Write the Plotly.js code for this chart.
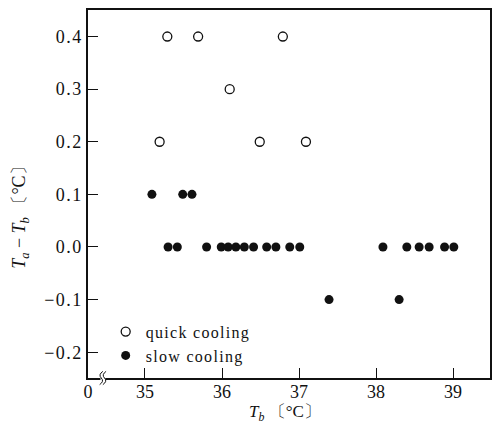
<!DOCTYPE html>
<html>
<head>
<meta charset="utf-8">
<script src="https://cdn.plot.ly/plotly-3.0.1.min.js"></script>
<style>
html,body{margin:0;padding:0;background:#fff;}
#chart{width:496px;height:425px;}
.legendtext{letter-spacing:1.3px;}
.ytick text{letter-spacing:1.5px;}
</style>
</head>
<body>
<div id="chart"></div>
<script>
// quick cooling (open circles)
const quickTb = [35.19, 35.29, 35.69, 36.10, 36.49, 36.79, 37.09];
const quickDiff = [0.2, 0.4, 0.4, 0.3, 0.2, 0.4, 0.2];

// slow cooling (filled circles)
const slowTb = [35.09, 35.49, 35.61,
  35.30, 35.42, 35.80, 35.99, 36.08, 36.18, 36.29, 36.41, 36.58, 36.70, 36.88, 37.01,
  38.09, 38.40, 38.56, 38.69, 38.89, 39.01,
  37.39, 38.30];
const slowDiff = [0.1, 0.1, 0.1,
  0, 0, 0, 0, 0, 0, 0, 0, 0, 0, 0, 0,
  0, 0, 0, 0, 0, 0,
  -0.1, -0.1];

const xTickVals = [34.26, 35, 36, 37, 38, 39];
const xTickText = ['0', '35', '36', '37', '38', '39'];
const yTickVals = [-0.2, -0.1, 0, 0.1, 0.2, 0.3, 0.4];
const yTickText = ['\u22120.2', '\u22120.1', '0.0', '0.1', '0.2', '0.3', '0.4'];
const seriesNames = ['quick cooling', 'slow cooling'];

const serif = 'Liberation Serif, Times New Roman, serif';

const traces = [
  {
    x: quickTb, y: quickDiff, name: seriesNames[0], type: 'scatter', mode: 'markers',
    marker: {symbol: 'circle-open', size: 9, color: '#111', line: {width: 1.3, color: '#111'}}
  },
  {
    x: slowTb, y: slowDiff, name: seriesNames[1], type: 'scatter', mode: 'markers',
    marker: {symbol: 'circle', size: 9, color: '#111'}
  }
];

const layout = {
  width: 496, height: 425,
  margin: {l: 88, r: 6, t: 10, b: 47},
  paper_bgcolor: '#fff', plot_bgcolor: '#fff',
  font: {family: serif, size: 17, color: '#111'},
  showlegend: true,
  legend: {
    x: 0.044, y: 0.172, xanchor: 'left', yanchor: 'top',
    bgcolor: 'rgba(0,0,0,0)', borderwidth: 0,
    font: {family: serif, size: 16, color: '#111'},
    itemwidth: 30, tracegroupgap: 0
  },
  xaxis: {
    range: [34.26, 39.48], showgrid: false, zeroline: false,
    showline: true, linecolor: '#111', linewidth: 1.6, mirror: true,
    ticks: 'inside', ticklen: 10, tickwidth: 1, tickcolor: '#111',
    tickmode: 'array', tickvals: xTickVals, ticktext: xTickText,
    ticklabelstandoff: -3,
    tickfont: {family: serif, size: 18, color: '#111'}
  },
  yaxis: {
    range: [-0.249, 0.4504], showgrid: false, zeroline: false,
    showline: true, linecolor: '#111', linewidth: 1.6, mirror: true,
    ticks: 'inside', ticklen: 10, tickwidth: 1, tickcolor: '#111',
    tickmode: 'array', tickvals: yTickVals, ticktext: yTickText,
    tickfont: {family: serif, size: 18, color: '#111'}
  },
  annotations: [
    {
      text: '<i>T</i><sub><i>a</i></sub> \u2212 <i>T</i><sub><i>b</i></sub> \u3014\u00b0C\u3015',
      xref: 'paper', yref: 'paper', x: -0.168, y: 0.45, textangle: -90,
      showarrow: false, xanchor: 'center', yanchor: 'middle',
      font: {family: serif, size: 18, color: '#111'}
    },
    {
      text: '<i>T</i><sub><i>b</i></sub> \u3014\u00b0C\u3015',
      xref: 'paper', yref: 'paper', x: 0.49, y: -0.094, yanchor: 'middle', xanchor: 'center',
      showarrow: false,
      font: {family: serif, size: 17, color: '#111'}
    }
  ],
  shapes: [
    {type: 'rect', xref: 'paper', yref: 'paper', x0: 0.031, x1: 0.043, y0: -0.008, y1: 0.008,
     fillcolor: '#fff', line: {width: 0}, layer: 'above'},
    {type: 'path', xref: 'paper', yref: 'paper', layer: 'above',
     path: 'M 0.029,-0.018 Q 0.041,-0.009 0.033,0 T 0.037,0.018', line: {color: '#111', width: 1}},
    {type: 'path', xref: 'paper', yref: 'paper', layer: 'above',
     path: 'M 0.037,-0.018 Q 0.049,-0.009 0.041,0 T 0.045,0.018', line: {color: '#111', width: 1}}
  ]
};

Plotly.newPlot('chart', traces, layout, {displayModeBar: false, staticPlot: true});
</script>
</body>
</html>
